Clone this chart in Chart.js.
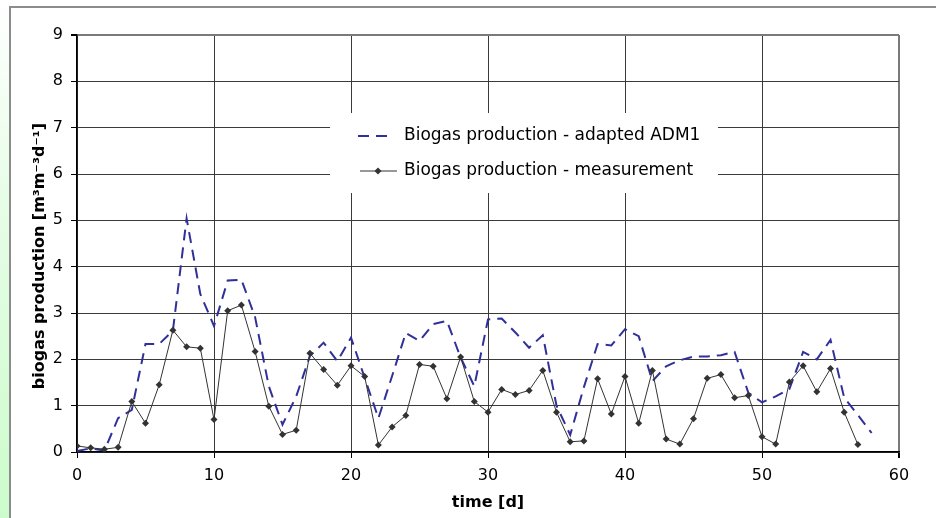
<!DOCTYPE html>
<html>
<head>
<meta charset="utf-8">
<script src="https://cdn.jsdelivr.net/npm/chart.js@4"></script>
<style>
  html, body { margin: 0; padding: 0; background: #fff; }
  #wrap { position: relative; width: 936px; height: 518px; overflow: hidden; }
  #strip { position: absolute; left: 0; top: 0; width: 10px; height: 518px;
           background: linear-gradient(to bottom, #ffffff 0%, #e6fde6 40%, #ccfccc 100%); }
  #frame { position: absolute; left: 9px; top: 6px; width: 940px; height: 530px;
           border-left: 2px solid #8c8c8c; border-top: 2px solid #8c8c8c; background: #fff; }
  canvas { position: absolute; left: 0; top: 0; }
</style>
</head>
<body>
<div id="wrap">
  <div id="strip"></div>
  <div id="frame"></div>
  <canvas id="grafico" width="936" height="518"></canvas>
</div>
<script>
// ----------- dados -----------
const days = [0, 1, 2, 3, 4, 5, 6, 7, 8, 9, 10, 11, 12, 13, 14, 15, 16, 17, 18, 19,
  20, 21, 22, 23, 24, 25, 26, 27, 28, 29, 30, 31, 32, 33, 34, 35, 36, 37, 38, 39,
  40, 41, 42, 43, 44, 45, 46, 47, 48, 49, 50, 51, 52, 53, 54, 55, 56, 57, 58];

const modelADM1 = [0.02, 0.08, 0.03, 0.73, 0.91, 2.33, 2.33, 2.62, 5.04, 3.41,
  2.72, 3.70, 3.72, 2.91, 1.42, 0.59, 1.20, 2.07, 2.36, 1.96,
  2.47, 1.60, 0.73, 1.64, 2.57, 2.40, 2.76, 2.83, 2.04, 1.42,
  2.86, 2.88, 2.58, 2.25, 2.52, 1.00, 0.37, 1.40, 2.33, 2.30,
  2.65, 2.50, 1.53, 1.85, 1.98, 2.06, 2.06, 2.09, 2.16, 1.28,
  1.07, 1.20, 1.36, 2.16, 2.00, 2.42, 1.17, 0.80, 0.41];

const measured = [0.13, 0.09, 0.06, 0.10, 1.09, 0.62, 1.45, 2.63, 2.27, 2.24,
  0.70, 3.05, 3.17, 2.17, 0.99, 0.38, 0.47, 2.13, 1.78, 1.44,
  1.86, 1.63, 0.15, 0.54, 0.79, 1.89, 1.85, 1.15, 2.05, 1.09,
  0.86, 1.35, 1.24, 1.33, 1.76, 0.86, 0.22, 0.24, 1.58, 0.82,
  1.63, 0.62, 1.76, 0.28, 0.17, 0.72, 1.59, 1.67, 1.17, 1.22,
  0.33, 0.17, 1.51, 1.86, 1.30, 1.80, 0.86, 0.16];

const xTicks = [0, 10, 20, 30, 40, 50, 60];
const yTicks = [0, 1, 2, 3, 4, 5, 6, 7, 8, 9];

const seriesNames = ["Biogas production - adapted ADM1", "Biogas production - measurement"];
const xTitle = "time [d]";
const yTitle = "biogas production [m³m⁻³d⁻¹]";

const FONT = "DejaVu Sans";
const BLUE = "#30309a";
const DARK = "#333333";

function pontos(vals) {
  return vals.map((v, i) => ({ x: days[i], y: v }));
}

// legenda e título do eixo y desenhados à mão
const extras = {
  id: "extras",
  afterDraw(chart) {
    const ctx = chart.ctx;
    ctx.save();
    // caixa da legenda
    ctx.fillStyle = "#fff";
    ctx.fillRect(330, 113, 388, 80);

    ctx.strokeStyle = BLUE;
    ctx.lineWidth = 2;
    ctx.setLineDash([11, 7]);
    ctx.beginPath();
    ctx.moveTo(358, 136);
    ctx.lineTo(394, 136);
    ctx.stroke();
    ctx.setLineDash([]);

    ctx.strokeStyle = DARK;
    ctx.lineWidth = 1;
    ctx.beginPath();
    ctx.moveTo(360, 171);
    ctx.lineTo(397, 171);
    ctx.stroke();
    ctx.fillStyle = DARK;
    ctx.beginPath();
    ctx.moveTo(378, 167.5);
    ctx.lineTo(381.5, 171);
    ctx.lineTo(378, 174.5);
    ctx.lineTo(374.5, 171);
    ctx.closePath();
    ctx.fill();

    ctx.fillStyle = "#000";
    ctx.font = "17px '" + FONT + "'";
    ctx.textAlign = "left";
    ctx.textBaseline = "middle";
    ctx.fillText(seriesNames[0], 404, 136);
    ctx.fillText(seriesNames[1], 404, 171);

    // título do eixo y
    ctx.translate(40, 256);
    ctx.rotate(-Math.PI / 2);
    ctx.font = "bold 16px '" + FONT + "'";
    ctx.textAlign = "center";
    ctx.fillText(yTitle, 0, 0);
    ctx.restore();
  }
};

document.addEventListener("DOMContentLoaded", () => {
  new Chart(document.getElementById("grafico"), {
    type: "line",
    data: {
      datasets: [{
        label: seriesNames[0],
        data: pontos(modelADM1),
        borderColor: BLUE,
        borderWidth: 2,
        borderDash: [11, 7],
        pointRadius: 0,
        tension: 0,
        order: 1
      }, {
        label: seriesNames[1],
        data: pontos(measured),
        borderColor: DARK,
        borderWidth: 1,
        pointStyle: "rectRot",
        pointRadius: 3.5,
        pointBackgroundColor: DARK,
        pointBorderColor: DARK,
        pointBorderWidth: 0,
        tension: 0,
        order: 0
      }]
    },
    options: {
      responsive: false,
      animation: false,
      devicePixelRatio: 1,
      layout: { padding: { left: 0, top: 35, right: 37, bottom: 0 } },
      plugins: { legend: { display: false }, tooltip: { enabled: false } },
      scales: {
        x: {
          type: "linear",
          min: 0,
          max: 60,
          afterBuildTicks: s => { s.ticks = xTicks.map(v => ({ value: v })); },
          afterFit: s => { s.height = 66; },
          ticks: { color: "#000", font: { family: FONT, size: 16 }, padding: 8, maxRotation: 0 },
          grid: {
            color: c => (c.tick && c.tick.value === 60) ? "#7a7a7a" : "#3a3a3a",
            lineWidth: c => (c.tick && c.tick.value === 60) ? 2 : 1,
            tickLength: 6,
            tickColor: "#000"
          },
          border: { color: "#000", width: 1.5 },
          title: { display: true, text: xTitle, color: "#000",
                   font: { family: FONT, size: 16, weight: "bold" }, padding: { top: 0, bottom: 6 } }
        },
        y: {
          min: 0,
          max: 9,
          afterBuildTicks: s => { s.ticks = yTicks.map(v => ({ value: v })); },
          afterFit: s => { s.width = 77; },
          ticks: { color: "#000", font: { family: FONT, size: 16 }, padding: 8 },
          grid: {
            color: c => (c.tick && c.tick.value === 9) ? "#7a7a7a" : "#3a3a3a",
            lineWidth: c => (c.tick && c.tick.value === 9) ? 2 : 1,
            tickLength: 6,
            tickColor: "#000"
          },
          border: { color: "#000", width: 1.5 }
        }
      }
    },
    plugins: [extras]
  });
});
</script>
</body>
</html>
